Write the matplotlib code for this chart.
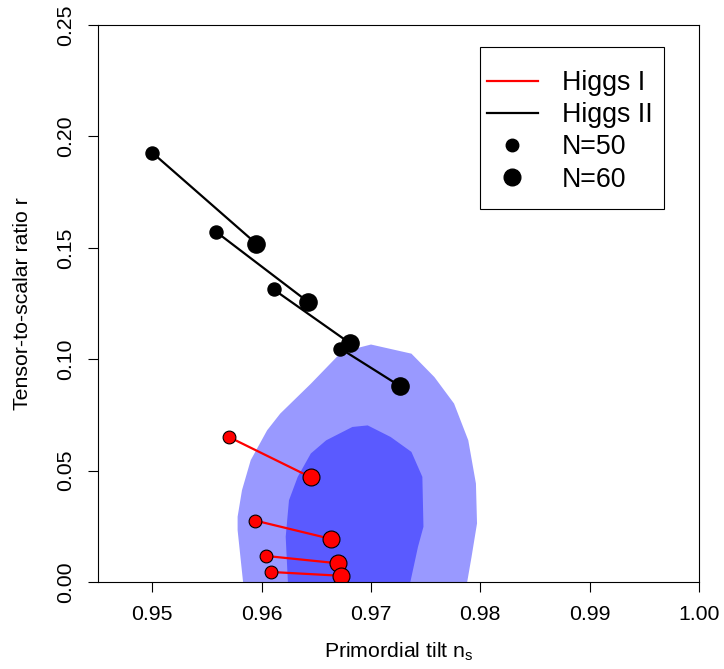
import numpy as np
import matplotlib.pyplot as plt
from matplotlib.lines import Line2D
from matplotlib.patches import Rectangle

plt.rcParams['font.family'] = ['Liberation Sans', 'DejaVu Sans']
plt.rcParams['mathtext.fontset'] = 'custom'
plt.rcParams['mathtext.rm'] = 'Liberation Sans'

# Higgs I (red), N=50 and N=60 end points
ns_I_50 = [0.9570, 0.9594, 0.9604, 0.9609]
r_I_50 = [0.0651, 0.0276, 0.0117, 0.0045]
ns_I_60 = [0.9645, 0.9663, 0.9670, 0.9673]
r_I_60 = [0.0470, 0.0194, 0.0084, 0.0028]

# Higgs II (black)
ns_II_50 = [0.9500, 0.9558, 0.9611, 0.9672]
r_II_50 = [0.1927, 0.1573, 0.1313, 0.1048]
ns_II_60 = [0.9595, 0.9642, 0.9681, 0.9727]
r_II_60 = [0.1519, 0.1259, 0.1071, 0.0878]

# confidence regions (outer = 95%, inner = 68%)
outer_ns = [0.9583, 0.9578, 0.9578, 0.9582, 0.9590, 0.9605, 0.9617, 0.9645, 0.9673,
            0.9700, 0.9737, 0.9758, 0.9776, 0.9789, 0.9796, 0.9797, 0.9792, 0.9788]
outer_r = [0.0, 0.0233, 0.0293, 0.0412, 0.0547, 0.0681, 0.0756, 0.0890, 0.1032,
           0.1066, 0.1025, 0.0920, 0.0801, 0.0636, 0.0442, 0.0263, 0.0113, 0.0]
inner_ns = [0.9624, 0.9622, 0.9625, 0.9633, 0.9645, 0.9659, 0.9683, 0.9697, 0.9718,
            0.9737, 0.9747, 0.9748, 0.9743, 0.9736]
inner_r = [0.0, 0.0203, 0.0367, 0.0472, 0.0577, 0.0636, 0.0696, 0.0703, 0.0651,
           0.0584, 0.0472, 0.0248, 0.0158, 0.0]

xticks = [0.95, 0.96, 0.97, 0.98, 0.99, 1.00]
yticks = [0.00, 0.05, 0.10, 0.15, 0.20, 0.25]

fig = plt.figure(figsize=(7.24, 6.69), dpi=100)
ax = fig.add_axes([0.1349, 0.1300, 0.8305, 0.8326])

ax.fill(outer_ns, outer_r, color='#9999FF', lw=0, zorder=1)
ax.fill(inner_ns, inner_r, color='#5A5AFF', lw=0, zorder=2)

for i in range(len(ns_II_50)):
    ax.plot([ns_II_50[i], ns_II_60[i]], [r_II_50[i], r_II_60[i]], color='black', lw=1.6, zorder=3)
    ax.plot(ns_II_50[i], r_II_50[i], 'o', ms=9.4, color='black', zorder=4)
    ax.plot(ns_II_60[i], r_II_60[i], 'o', ms=12.4, color='black', zorder=4)

for i in range(len(ns_I_50)):
    ax.plot([ns_I_50[i], ns_I_60[i]], [r_I_50[i], r_I_60[i]], color='red', lw=1.6, zorder=3)
    ax.plot(ns_I_50[i], r_I_50[i], 'o', ms=9.2, mfc='red', mec='black', mew=0.8, zorder=4)
    ax.plot(ns_I_60[i], r_I_60[i], 'o', ms=12.2, mfc='red', mec='black', mew=0.8, zorder=4)

ax.set_xlim(0.945, 1.0)
ax.set_ylim(0, 0.25)
ax.set_xticks(xticks)
ax.set_xticklabels(['%.2f' % v for v in xticks])
ax.set_yticks(yticks)
ax.set_yticklabels(['%.2f' % v for v in yticks], rotation=90, va='center')
ax.tick_params(length=7.5, width=0.8, labelsize=15.3, pad=9)
for s in ax.spines.values():
    s.set_linewidth(0.8)
    s.set_zorder(5)

ax.set_xlabel('Primordial tilt n$_\\mathregular{s}$', fontsize=15.3, labelpad=12)
ax.set_ylabel('Tensor-to-scalar ratio r', fontsize=15.3, labelpad=17)

# legend box drawn by hand, entries placed inside it
ax.add_patch(Rectangle((0.6358, 0.6697), 0.306, 0.2903, transform=ax.transAxes,
                       facecolor='white', edgecolor='black', lw=0.8, zorder=6))
handles = [Line2D([], [], color='red', lw=1.6),
           Line2D([], [], color='black', lw=1.6),
           Line2D([], [], ls='none', marker='o', ms=9.0, color='black'),
           Line2D([], [], ls='none', marker='o', ms=12.0, color='black')]
leg = ax.legend(handles, ['Higgs I', 'Higgs II', 'N=50', 'N=60'], loc='upper left',
                bbox_to_anchor=(0.6474, 0.9192), fontsize=19.3, frameon=False,
                borderpad=0, labelspacing=0.23, handlelength=1.9, handletextpad=0.9,
                borderaxespad=0)
leg.set_zorder(7)

fig.savefig('out.png', dpi=100)
